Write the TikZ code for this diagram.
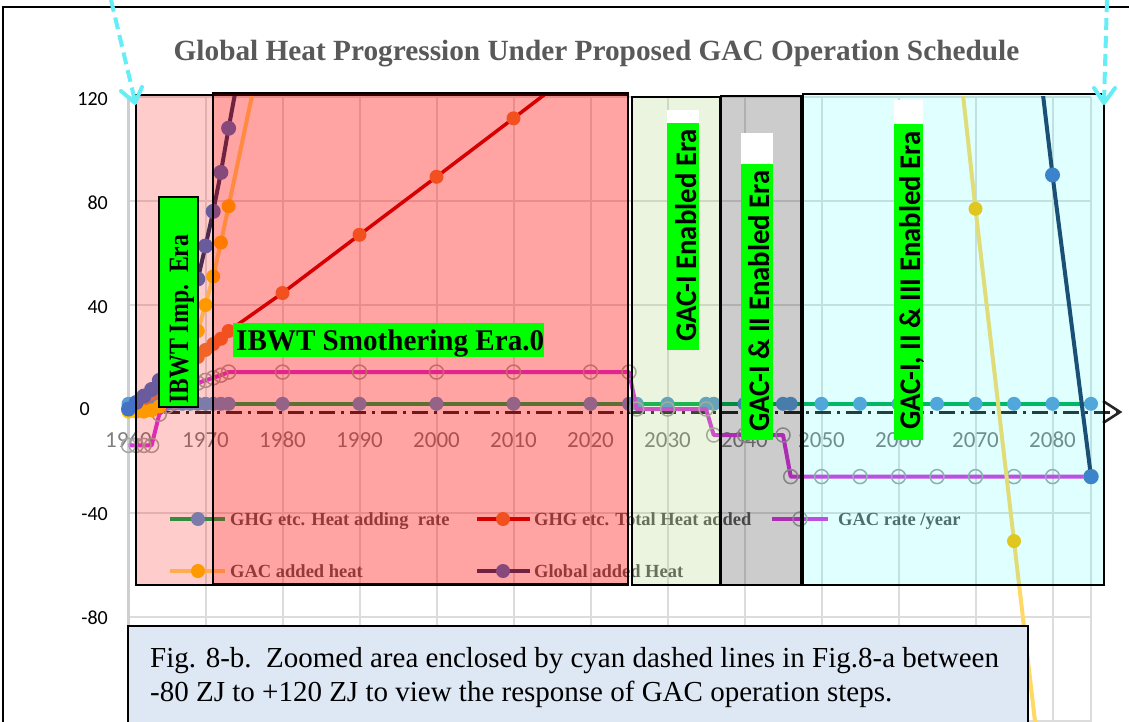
\documentclass[tikz,border=0pt]{standalone}
\usepackage{fontspec}
\setmainfont{Liberation Serif}
\setsansfont{Carlito}
\definecolor{titlegray}{HTML}{595959}
\definecolor{gridgray}{HTML}{DCDCDC}
\definecolor{axisgray}{HTML}{CFCFCF}
\definecolor{ticklab}{HTML}{7F7F7F}
\definecolor{rateline}{HTML}{00B050}
\definecolor{ratedot}{HTML}{5B9BD5}
\definecolor{totline}{HTML}{C00000}
\definecolor{totdot}{HTML}{ED7D31}
\definecolor{gacrate}{HTML}{D838E0}
\definecolor{circgray}{HTML}{A5A5A5}
\definecolor{gacline}{HTML}{FFD966}
\definecolor{gacdot}{HTML}{FFC000}
\definecolor{globline}{HTML}{1F3864}
\definecolor{globdot}{HTML}{4472C4}
\definecolor{labgreen}{HTML}{00FF00}
\definecolor{capblue}{HTML}{DEE8F4}
\definecolor{arrcyan}{HTML}{66EEF6}
\definecolor{eragreen}{RGB}{150,200,90}
\definecolor{eracyan}{RGB}{0,255,255}
\definecolor{erared}{RGB}{255,0,0}
\definecolor{eragray}{RGB}{0,0,0}
\definecolor{axisdark}{HTML}{262626}
\tikzset{
  gridln/.style={draw=gridgray, line width=2pt},
  ylab/.style={font=\sffamily\fontsize{20}{24}\selectfont, anchor=east, inner sep=0pt},
  xlab/.style={font=\sffamily\fontsize{23}{28}\selectfont, text=ticklab, inner sep=0pt},
  ser/.style={line width=4pt, line join=round},
  ocirc/.style={draw=circgray, line width=1.5pt},
  erabox/.style={draw=black, line width=1.2pt},
  glab/.style={fill=labgreen, draw=none},
  leg/.style={font=\bfseries\fontsize{18.5}{22}\selectfont, text=titlegray, anchor=base west, inner sep=0pt},
  gactext/.style={font=\sffamily\bfseries\fontsize{30}{36}\selectfont, rotate=90, anchor=base west, inner sep=0pt},
  cyanarrow/.style={draw=arrcyan, line width=4pt, dash pattern=on 12pt off 6pt},
  cyanhead/.style={draw=arrcyan, line width=4pt, line cap=round, line join=round},
}
\begin{document}
\begin{tikzpicture}[x=1pt, y=-1pt]
\useasboundingbox (0,0) rectangle (1129,722);
\fill[white] (0,0) rectangle (1129,722);
% outer frame
\draw[black, line width=1.2pt] (3,722) -- (3,7) -- (1129,7);
% title
\node[font=\bfseries\fontsize{29.3}{35}\selectfont, text=titlegray, anchor=base, inner sep=0pt] (title) at (596.5,61) {Global Heat Progression Under Proposed GAC Operation Schedule};
% grid
\foreach \gx in {205.5,282.5,359.5,436.5,513.5,590.5,667.5,744.5,821.5,898.5,975.5,1052.5,1091}
  \draw[gridln] (\gx,97) -- (\gx,722);
\foreach \gy in {97,201,305,513,617,721}
  \draw[gridln] (128.5,\gy) -- (1091,\gy);
\draw[draw=axisgray, line width=3pt] (128.5,97) -- (128.5,722);
% y labels
\node[ylab] (y120) at (108,99.5) {120};
\node[ylab] (y80) at (108,203) {80};
\node[ylab] (y40) at (108,307) {40};
\node[ylab] (y0) at (90,409) {0};
\node[ylab] (ym40) at (108,514) {-40};
\node[ylab] (ym80) at (108,618) {-80};
% dash-dot axis
\coordinate (axL) at (133,412);
\coordinate (axR) at (1117,412);
\draw[axisdark, line width=3pt, dash pattern=on 16pt off 6pt on 3pt off 6pt] (axL) -- (axR);
\draw[axisdark, line width=2.6pt, line join=miter] (1103,401) -- (1120,412) -- (1103,423);
% data
\begin{scope}[shift={(128.5,409)}, x=7.7pt, y=2.6pt]
  \foreach \yr in {1960,1970,...,2080}
    \node[xlab] (xl\yr) at ({\yr-1960},-11.9) {\yr};
  \clip (-20,120) rectangle (140,-121);
  % GHG rate
  \draw[ser, rateline] (0,2) -- (125,2);
  \foreach \a in {0,1,2,3,4,5,6,7,8,9,10,11,12,13,20,30,40,50,60,65,66,70,75,76,80,85,86,90,95,100,105,110,115,120,125}
    \fill[ratedot] (\a,2) circle (7pt);
  % GHG total
  \draw[line width=3.5pt, line join=round, totline] plot coordinates {(0,0)(1,2)(2,4)(3,6)(4,8)(5,10)(6,12)(7,15)(8,17)(9,20)(10,22.7)(11,25)(12,27)(13,30)(20,44.6)(30,67)(40,89.3)(50,111.8)(60,134.5)};
  \foreach \a/\b in {0/0,1/2,2/4,3/6,4/8,5/10,6/12,7/15,8/17,9/20,10/22.7,11/25,12/27,13/30,20/44.6,30/67,40/89.3,50/111.8}
    \fill[totdot] (\a,\b) circle (7pt);
  % GAC rate
  \draw[ser, gacrate] plot coordinates {(0,-14)(1,-14)(2,-14)(3,-14)(4,-2)(5,1)(6,3)(7,5)(8,7.5)(9,10)(10,11)(11,12)(12,13)(13,14.2)(20,14.2)(30,14.2)(40,14.2)(50,14.2)(60,14.2)(65,14.2)(66,0)(70,0)(75,0)(76,-10)(80,-10)(85,-10)(86,-26)(90,-26)(95,-26)(100,-26)(105,-26)(110,-26)(115,-26)(120,-26)(125,-26)};
  \foreach \a/\b in {0/-14,1/-14,2/-14,3/-14,4/-2,5/1,6/3,7/5,8/7.5,9/10,10/11,11/12,12/13,13/14.2,20/14.2,30/14.2,40/14.2,50/14.2,60/14.2,65/14.2,66/0,70/0,75/0,76/-10,80/-10,85/-10,86/-26,90/-26,95/-26,100/-26,105/-26,110/-26,115/-26,120/-26,125/-26}
    \draw[ocirc] (\a,\b) circle (7pt);
  % GAC added heat
  \draw[ser, gacline] plot coordinates {(0,-1)(1,-1)(2,-1)(3,-0.5)(4,1)(5,4)(6,8)(7,13)(8,20)(9,30)(10,40)(11,51)(12,64)(13,78)(20,176)};
  \draw[ser, gacline] plot coordinates {(105,212)(110,77)(115,-50.8)(120,-178)};
  \foreach \a/\b in {0/-1,1/-1,2/-1,3/-0.5,4/1,5/4,6/8,7/13,8/20,9/30,10/40,11/51,12/64,13/78,110/77,115/-50.8}
    \fill[gacdot] (\a,\b) circle (7pt);
  % Global added heat
  \draw[ser, globline] plot coordinates {(0,0)(1,2.5)(2,5)(3,7.5)(4,11)(5,15)(6,21)(7,29)(8,38)(9,50)(10,62.7)(11,76)(12,91)(13,108)(20,220)};
  \draw[ser, globline] plot coordinates {(115,215)(120,90)(125,-26)};
  \foreach \a/\b in {0/0,1/2.5,2/5,3/7.5,4/11,5/15,6/21,7/29,8/38,9/50,10/62.7,11/76,12/91,13/108,120/90,125/-26}
    \fill[globdot] (\a,\b) circle (7.5pt);
\end{scope}
% legend
\draw[ser, rateline] (170,519) -- (225,519); \fill[ratedot] (198,519) circle (7pt);
\node[leg] (lg1) at (230,525.5) {GHG etc. Heat adding\ \ rate};
\draw[line width=3.5pt, totline] (477,519) -- (530,519); \fill[totdot] (503,519) circle (7pt);
\node[leg] (lg2) at (534,525.5) {GHG etc. Total Heat added};
\draw[ser, gacrate] (772,519) -- (828,519); \draw[ocirc] (800,519) circle (7pt);
\node[leg] (lg3) at (838,525.5) {GAC rate /year};
\draw[ser, gacline] (170,571) -- (225,571); \fill[gacdot] (198,571) circle (7pt);
\node[leg] (lg4) at (230,577.5) {GAC added heat};
\draw[ser, globline] (477,571) -- (530,571); \fill[globdot] (503,571) circle (7pt);
\node[leg] (lg5) at (534,577.5) {Global added Heat};
% era overlays
\path[erabox, fill=erared, fill opacity=0.2] (136,95) rectangle (628,585);
\path[erabox, fill=erared, fill opacity=0.2] (213,93) rectangle (628,584);
\path[erabox, fill=eragreen, fill opacity=0.2] (632,97) rectangle (720,585);
\path[erabox, fill=eragray, fill opacity=0.2] (721,96) rectangle (801,585);
\path[erabox, fill=eracyan, fill opacity=0.12] (803,94) rectangle (1104,585);
% era labels
\path[glab, draw=black, line width=1.5pt] (159,197) rectangle (198,407);
\node[font=\bfseries\fontsize{28}{34}\selectfont, rotate=90, anchor=base west, inner sep=0pt] (l1) at (188,404) {\scalebox{0.85}[1]{IBWT Imp.\ \ Era}};
\path[glab] (233,323) rectangle (544,357);
\node[font=\bfseries\fontsize{30}{36}\selectfont, anchor=base west, inner sep=0pt] (l2) at (236,350) {\scalebox{0.97}[1]{IBWT Smothering Era.0}};
\fill[white] (667,110) rectangle (699,123);
\path[glab] (667,123) rectangle (699,350);
\node[gactext] (l3) at (696,342) {\scalebox{0.96}[1]{GAC-I Enabled Era}};
\fill[white] (741,133) rectangle (773,164);
\path[glab] (741,164) rectangle (773,440);
\node[gactext] (l4) at (769,432) {\scalebox{0.96}[1]{GAC-I \& II Enabled Era}};
\fill[white] (894,100) rectangle (923,124);
\path[glab] (894,124) rectangle (923,440);
\node[gactext] (l5) at (920,430) {\scalebox{0.96}[1]{GAC-I, II \& III Enabled Era}};
% caption
\path[fill=capblue, draw=black, line width=1.2pt] (128,626) rectangle (1028,740);
\node[font=\fontsize{29}{34}\selectfont, anchor=base west, inner sep=0pt] (cap1) at (150,667) {Fig. 8-b.\ \ Zoomed area enclosed by cyan dashed lines in Fig.8-a between};
\node[font=\fontsize{29}{34}\selectfont, anchor=base west, inner sep=0pt] (cap2) at (150,701) {-80 ZJ to +120 ZJ to view the response of GAC operation steps.};
% cyan dashed arrows
\coordinate (ca1) at (111,0);
\coordinate (ca1t) at (135,101);
\draw[cyanarrow] (ca1) -- (ca1t);
\draw[cyanhead] (121,91) -- (135,103) -- (142,87);
\coordinate (ca2) at (1107,0);
\coordinate (ca2t) at (1104,101);
\draw[cyanarrow] (ca2) -- (ca2t);
\draw[cyanhead] (1094,88) -- (1104,103) -- (1115,88);
\end{tikzpicture}
\end{document}
